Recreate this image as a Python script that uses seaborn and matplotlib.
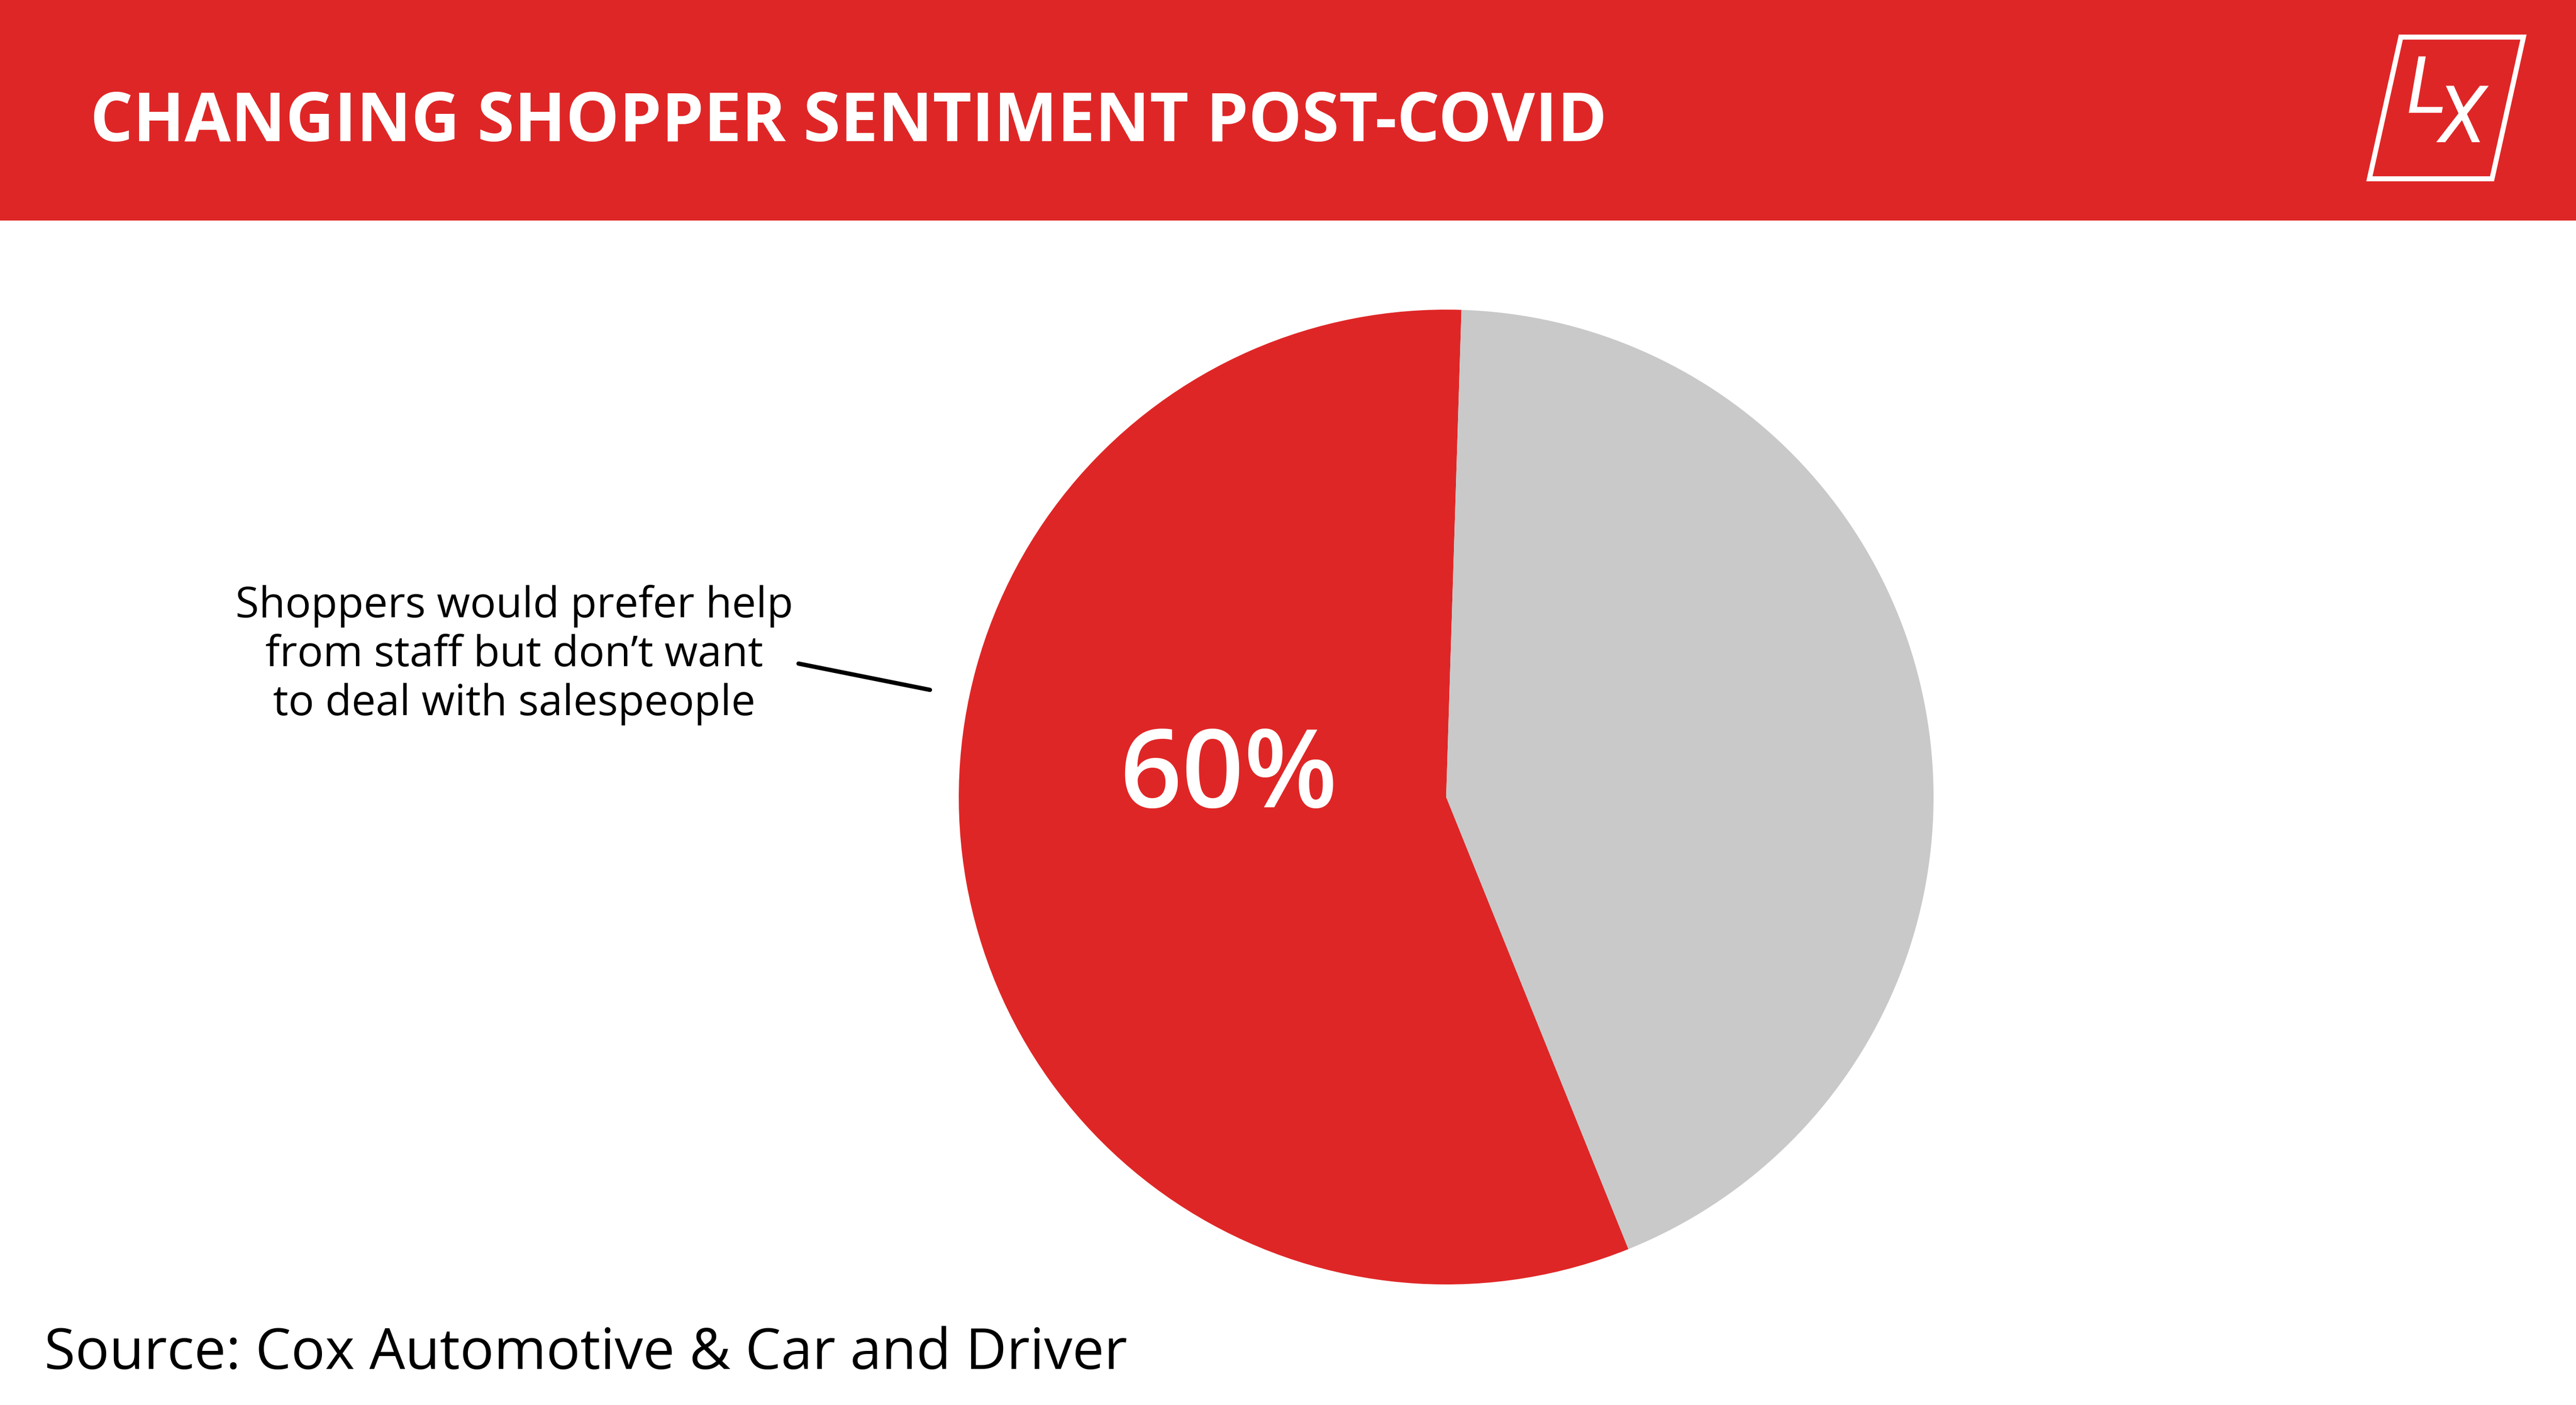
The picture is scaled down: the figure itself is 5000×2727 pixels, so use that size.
import numpy as np
import seaborn as sns
import matplotlib.pyplot as plt
from matplotlib.patches import Rectangle, Polygon

# Data
slice_names = ["Prefer staff, avoid salespeople", "Other"]
slice_shares = [56.6, 43.4]
slice_labels = ["60%", ""]
title_text = "CHANGING SHOPPER SENTIMENT POST-COVID"
callout_text = "Shoppers would prefer help\nfrom staff but don\u2019t want\nto deal with salespeople"
source_text = "Source: Cox Automotive & Car and Driver"

RED = "#DF2626"
GREY = "#C9C9C9"

sns.set_theme(style="white")
plt.rcParams['font.family'] = ['Open Sans', 'DejaVu Sans']

W, H = 5000, 2727
fig = plt.figure(figsize=(W / 100, H / 100), dpi=100)
fig.patch.set_facecolor("white")

# header band
fig.patches.append(Rectangle((0, 1 - 428 / H), 1, 428 / H, transform=fig.transFigure,
                             facecolor=RED, edgecolor="none", zorder=0))
fig.text(175 / W, 1 - 240 / H, title_text, color="white", fontsize=94,
         fontweight="bold", ha="left", va="center")

# logo
logo = [(4660, 72), (4898, 72), (4837, 347), (4599, 347)]
fig.patches.append(Polygon([(x / W, 1 - y / H) for x, y in logo], closed=True,
                           transform=fig.transFigure, facecolor="none",
                           edgecolor="white", linewidth=7, zorder=2))
fig.text(4710 / W, 1 - 177 / H, "L", color="white", fontsize=110, style="italic",
         family="Roboto", ha="center", va="center")
fig.text(4778 / W, 1 - 234 / H, "X", color="white", fontsize=110, style="italic",
         family="Roboto", ha="center", va="center")

# pie
cx, cy, r = 2807, 1547, 946
ax = fig.add_axes([(cx - r) / W, (H - cy - r) / H, 2 * r / W, 2 * r / H])
palette = sns.color_palette([RED, GREY])
wedges, _ = ax.pie(slice_shares, colors=palette, startangle=88.2, counterclock=True,
                   radius=1, wedgeprops=dict(linewidth=0))
ax.set_xlim(-1, 1)
ax.set_ylim(-1, 1)
ax.axis("off")

# value label inside red slice
ax.text(-0.446, 0.036, slice_labels[0], color="white",
        fontsize=152, fontweight="semibold", ha="center", va="center")

# callout
fig.text(998 / W, 1 - 1271 / H, callout_text, color="black", fontsize=60,
         ha="center", va="center", linespacing=1.2, multialignment="center")
fig.add_artist(plt.Line2D([1550 / W, 1805 / W], [1 - 1288 / H, 1 - 1339 / H],
                          transform=fig.transFigure, color="black", linewidth=6))

# source
fig.text(86 / W, 1 - 2628 / H, source_text, color="black", fontsize=79,
         ha="left", va="center")

fig.savefig("out.png", dpi=100, facecolor="white")
